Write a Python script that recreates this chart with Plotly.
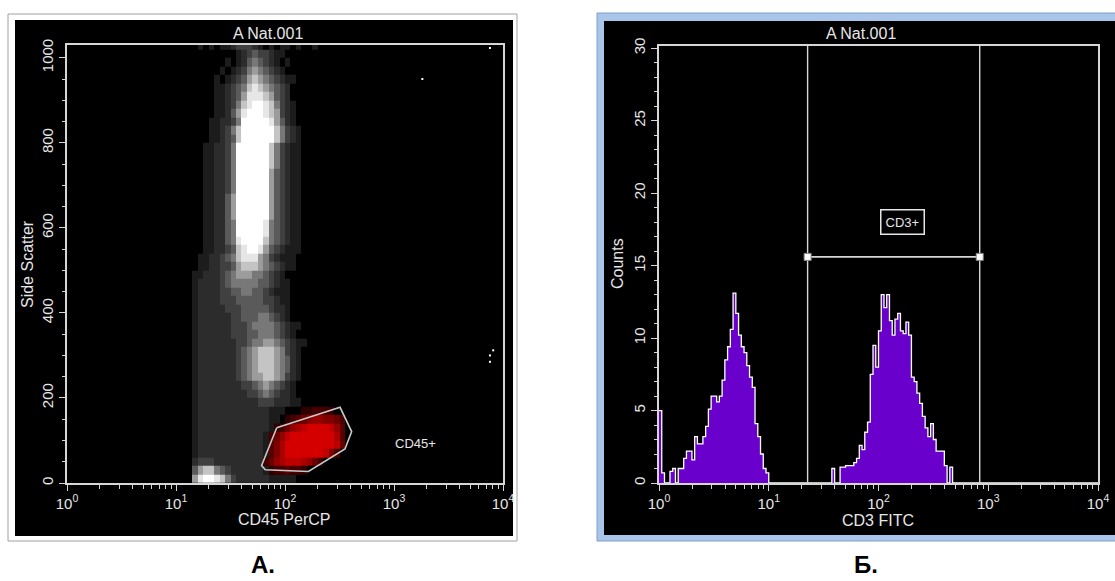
import numpy as np
import plotly.graph_objects as go

W, H = 1115, 581
FONT = "Liberation Sans, Arial, sans-serif"
TXT = "#e6e6e6"
LINE = "#d6d6d6"

# ---------------- Panel А : CD45 PerCP vs Side Scatter ----------------
# density grid: columns = log10(CD45) bins starting at 1.0,
# rows = Side Scatter bins (top row first). digits = white dot density,
# letters a..i = red (gated CD45+) dot density.
DENS_LOG_START = 1.0
DENS_LOG_STEP = 0.05
DENS_Y_STEP = 20
DENSITY_ROWS = [
    "0000101011233321010110100100",
    "00000000000123433211",
    "000000000101245432101",
    "00000000101235654321",
    "0000000101234676543211",
    "000000011234578765432",
    "000000011234688876432",
    "0000000112357899875321",
    "0000000112468999876321",
    "0000001122359999986421",
    "00000011235799999975321",
    "00000011234799999975321",
    "00000112235999999753211",
    "00000112235999999753211",
    "00000112235999999753211",
    "00000112235999999643211",
    "00000112235999999643211",
    "00000112235999999643211",
    "00000112246999999643211",
    "00000112246999999643211",
    "00000112246999999643211",
    "00000112245999998543211",
    "00000112245999998543211",
    "00000112245899997543211",
    "00000112234789986432111",
    "0000112234578886532111",
    "0000112233467776543211",
    "00011222345666554321",
    "000122223455555443211",
    "000122223344554432111",
    "000122223334444433211",
    "000122222333444443221",
    "000122222233444554321",
    "00012222223334555543211",
    "0001222222333445554321",
    "000122222223345566543211",
    "00012222222345677765321",
    "00012222222345677765421",
    "00012222222345677765421",
    "00012222222345667765321",
    "0001222222223345654321",
    "0001222222222334543221",
    "00012222222222233322211",
    "00012222222222222111000aabbba",
    "00012222222222222110abcdeffeedb",
    "000122222222222221abdfghiiiihfc",
    "00012222222222221bdfhiiiiiiiigc",
    "00012222222222221cegiiiiiiiiihd",
    "00012222222222221cegiiiiiiiheb",
    "0002333222222222bdfghhhgfdb",
    "00046775432222221abbcbba",
    "0006899875322222211111",
]

CD45_GATE_X = [84, 320, 409, 355, 164, 66, 61]
CD45_GATE_Y = [130, 178, 121, 80, 27, 31, 41]

OUTLIER_X = [7590, 7590, 8130, 1820, 7590]
OUTLIER_Y = [285, 300, 312, 950, 1023]

CD45_LABEL = ("CD45+", 1560, 94)
SSC_RANGE = [0, 1030]
SSC_TICKS = [0, 200, 400, 600, 800, 1000]

# ---------------- Panel Б : CD3 FITC histogram ----------------
HIST_LOG_STEP = 0.025
HIST_N_BINS = 160
PEAK1_START_BIN = 0
PEAK1_COUNTS = [5, 0.7, 0, 0, 0.8, 1, 0, 1, 1, 1.7, 2.2, 2.2, 1.6, 3.2, 2.7, 2.7,
                3.2, 3.9, 5.1, 6, 6, 5.6, 6, 7.1, 8.5, 9.4, 10.6, 13.1, 11.7, 10.2,
                9.4, 9, 8.1, 7.3, 6.6, 4.1, 3.2, 2, 1, 0.7]
PEAK2_START_BIN = 63
PEAK2_COUNTS = [1, 0, 0, 1.1, 1.1, 1.2, 1.2, 1.2, 1.4, 1.7, 2.6, 2.3, 3.5, 4.2,
                7.5, 9.5, 8, 10.5, 13, 12.1, 13, 11.2, 10.2, 11.3, 11.7, 10.5,
                10.3, 11.1, 10.2, 7.3, 7.0, 6.2, 5.5, 4.6, 3.8, 3.2, 4.1, 3.0,
                2.2, 2.2, 2.2, 1.2, 0, 1.1]
CD3_GATE = (22.6, 836)
CD3_GATE_LEVEL = 15.6
CD3_LABEL = ("CD3+", 166, 18)
COUNT_RANGE = [0, 30.15]
COUNT_TICKS = [0, 5, 10, 15, 20, 25, 30]

DECADE_VALS = [1, 10, 100, 1000, 10000]
DECADE_TEXT = ["10<sup>0</sup>", "10<sup>1</sup>", "10<sup>2</sup>",
               "10<sup>3</sup>", "10<sup>4</sup>"]
MINOR_LOG = [m * 10 ** d for d in range(4) for m in range(2, 10)]

# ---------------- build density matrices ----------------
n_cols = max(len(r) for r in DENSITY_ROWS)
white_z, red_z = [], []
for row in reversed(DENSITY_ROWS):
    row = row.ljust(n_cols, "0")
    wr, rr = [], []
    for ch in row:
        if ch.isdigit():
            v = int(ch)
            wr.append(v if v > 0 else None)
            rr.append(None)
        else:
            wr.append(None)
            rr.append(ord(ch) - ord("a") + 1)
    white_z.append(wr)
    red_z.append(rr)
dens_x = 10 ** (DENS_LOG_START + DENS_LOG_STEP * np.arange(n_cols + 1))
dens_y = np.arange(len(DENSITY_ROWS) + 1) * DENS_Y_STEP

white_scale = [[0, "#1c1c1c"], [0.125, "#2c2c2c"], [0.25, "#404040"], [0.375, "#5a5a5a"],
               [0.5, "#787878"], [0.625, "#9c9c9c"], [0.75, "#c4c4c4"], [0.875, "#e6e6e6"],
               [1, "#ffffff"]]
red_scale = [[0, "#300000"], [0.5, "#800000"], [1, "#d40000"]]

fig = go.Figure()
fig.add_trace(go.Heatmap(x=dens_x, y=dens_y, z=white_z, zmin=1, zmax=9, colorscale=white_scale,
                         showscale=False, hoverinfo="skip", xaxis="x", yaxis="y"))
fig.add_trace(go.Heatmap(x=dens_x, y=dens_y, z=red_z, zmin=1, zmax=9, colorscale=red_scale,
                         showscale=False, hoverinfo="skip", xaxis="x", yaxis="y"))
fig.add_trace(go.Scatter(x=OUTLIER_X, y=OUTLIER_Y, mode="markers",
                         marker=dict(symbol="square", size=2, color="white"),
                         hoverinfo="skip", showlegend=False, xaxis="x", yaxis="y"))
fig.add_trace(go.Scatter(x=CD45_GATE_X + CD45_GATE_X[:1], y=CD45_GATE_Y + CD45_GATE_Y[:1],
                         mode="lines", line=dict(color="#c8c8c8", width=1.6),
                         hoverinfo="skip", showlegend=False, xaxis="x", yaxis="y"))

# histogram
counts = np.zeros(HIST_N_BINS)
counts[PEAK1_START_BIN:PEAK1_START_BIN + len(PEAK1_COUNTS)] = PEAK1_COUNTS
counts[PEAK2_START_BIN:PEAK2_START_BIN + len(PEAK2_COUNTS)] = PEAK2_COUNTS
edges = 10 ** (np.arange(HIST_N_BINS + 1) * HIST_LOG_STEP)
fig.add_trace(go.Scatter(x=edges, y=np.append(counts, counts[-1]), mode="lines",
                         line=dict(shape="hv", color="white", width=1.3),
                         fill="tozeroy", fillcolor="#6a00cc",
                         hoverinfo="skip", showlegend=False, xaxis="x2", yaxis="y2"))
# CD3+ region marker
for gx in CD3_GATE:
    fig.add_trace(go.Scatter(x=[gx, gx], y=COUNT_RANGE, mode="lines",
                             line=dict(color=LINE, width=1.4),
                             hoverinfo="skip", showlegend=False, xaxis="x2", yaxis="y2"))
fig.add_trace(go.Scatter(x=list(CD3_GATE), y=[CD3_GATE_LEVEL] * 2, mode="lines+markers",
                         line=dict(color=LINE, width=1.6),
                         marker=dict(symbol="square", size=7, color="white",
                                     line=dict(color="#888", width=1)),
                         hoverinfo="skip", showlegend=False, xaxis="x2", yaxis="y2"))

axis_common = dict(showline=True, mirror=True, linecolor=LINE, linewidth=1.5,
                   ticks="outside", tickcolor=LINE, ticklen=6, tickwidth=1,
                   showgrid=False, zeroline=False, automargin=False,
                   tickfont=dict(family=FONT, size=15, color=TXT))
logx = dict(type="log", range=[0, 4], tickvals=DECADE_VALS, ticktext=DECADE_TEXT,
            minor=dict(tickvals=MINOR_LOG, ticks="outside", ticklen=4, tickcolor=LINE))

fig.update_layout(
    template="none",
    width=W, height=H, autosize=False,
    margin=dict(l=0, r=0, t=0, b=0, pad=0, autoexpand=False),
    paper_bgcolor="white", plot_bgcolor="black",
    showlegend=False,
    xaxis=dict(domain=[67 / W, 503 / W], anchor="y", **logx, **axis_common),
    yaxis=dict(domain=[1 - 483 / H, 1 - 45 / H], anchor="x", range=SSC_RANGE,
               tickvals=SSC_TICKS, tickangle=-90,
               minor=dict(dtick=50, ticks="outside", ticklen=3, tickcolor=LINE),
               **axis_common),
    xaxis2=dict(domain=[659 / W, 1098 / W], anchor="y2", **logx, **axis_common),
    yaxis2=dict(domain=[1 - 483 / H, 1 - 46 / H], anchor="x2", range=COUNT_RANGE,
                tickvals=COUNT_TICKS, tickangle=-90,
                minor=dict(dtick=1, ticks="outside", ticklen=3, tickcolor=LINE),
                **axis_common),
)

def px(x, y):
    return x / W, 1 - y / H

shapes = []
# panel А frame
x0, y1 = px(8, 14); x1, y0 = px(517, 541)
shapes.append(dict(type="rect", xref="paper", yref="paper", x0=x0, x1=x1, y0=y0, y1=y1,
                   line=dict(color="#a0a0a0", width=1), fillcolor="white", layer="below"))
x0, y1 = px(15, 20); x1, y0 = px(513, 536)
shapes.append(dict(type="rect", xref="paper", yref="paper", x0=x0, x1=x1, y0=y0, y1=y1,
                   line=dict(width=0), fillcolor="black", layer="below"))
# panel Б frame
x0, y1 = px(597, 13); x1, y0 = px(1125, 541)
shapes.append(dict(type="rect", xref="paper", yref="paper", x0=x0, x1=x1, y0=y0, y1=y1,
                   line=dict(color="#7f9fc8", width=1), fillcolor="#a9c6ea", layer="below"))
x0, y1 = px(604, 21); x1, y0 = px(1125, 535)
shapes.append(dict(type="rect", xref="paper", yref="paper", x0=x0, x1=x1, y0=y0, y1=y1,
                   line=dict(width=0), fillcolor="black", layer="below"))
fig.update_layout(shapes=shapes)

def ann(text, x, y, size=16, color=TXT, angle=0, bold=False):
    xx, yy = px(x, y)
    return dict(text=f"<b>{text}</b>" if bold else text, x=xx, y=yy, xref="paper", yref="paper",
                showarrow=False, textangle=angle, xanchor="center", yanchor="middle",
                font=dict(family=FONT, size=size, color=color))

annotations = [
    ann("A Nat.001", 268, 33, 16),
    ann("A Nat.001", 861, 33, 16),
    ann("Side Scatter", 27, 264, 16, angle=-90),
    ann("Counts", 617, 264, 16, angle=-90),
    ann("CD45 PerCP", 284, 519, 16),
    ann("CD3 FITC", 878, 520, 16),
    ann("А.", 263, 564, 24, color="black", bold=True),
    ann("Б.", 866, 564, 24, color="black", bold=True),
    dict(text=CD45_LABEL[0], x=np.log10(CD45_LABEL[1]), y=CD45_LABEL[2], xref="x", yref="y",
         showarrow=False, font=dict(family=FONT, size=13, color=TXT)),
    dict(text=CD3_LABEL[0], x=np.log10(CD3_LABEL[1]), y=CD3_LABEL[2], xref="x2", yref="y2",
         showarrow=False, font=dict(family=FONT, size=13, color=TXT),
         bordercolor=TXT, borderwidth=1.5, borderpad=4),
]
fig.update_layout(annotations=annotations)

fig.write_html("out.html", config={"displayModeBar": False},
               post_script="document.body.style.margin='0';document.body.style.overflow='hidden';")
